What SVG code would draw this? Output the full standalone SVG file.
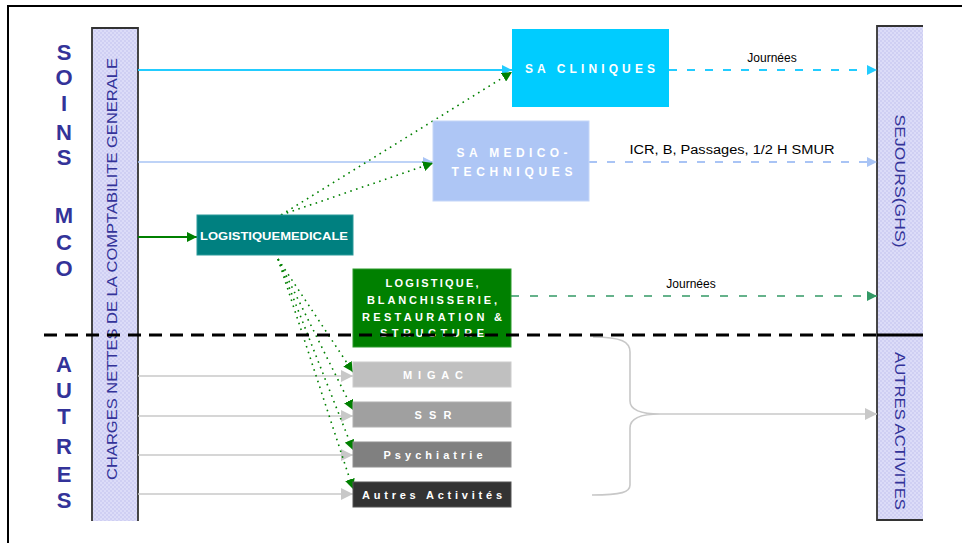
<svg xmlns="http://www.w3.org/2000/svg" width="962" height="543" viewBox="0 0 962 543">
<style>
.side{font-family:"Liberation Sans",Arial,sans-serif;font-weight:bold;font-size:22px;fill:#333399;text-anchor:middle}
.col{font-family:"Liberation Sans",Arial,sans-serif;font-size:14px;fill:#333399;text-anchor:middle;dominant-baseline:central}
.bt{font-family:"Liberation Sans",Arial,sans-serif;font-weight:bold;fill:#ffffff;text-anchor:middle}
.lbl{font-family:"Liberation Sans",Arial,sans-serif;font-size:12px;fill:#000000;text-anchor:middle}
.dot{fill:none;stroke:#008000;stroke-width:1.6;stroke-dasharray:1.6,4.5}
</style>
<defs>
<pattern id="hatch" width="4" height="4" patternUnits="userSpaceOnUse">
<rect width="4" height="4" fill="#dcdcf8"/>
<rect width="2" height="2" fill="#cfcff3"/>
<rect x="2" y="2" width="2" height="2" fill="#cfcff3"/>
</pattern>
<marker id="aCyan" markerUnits="userSpaceOnUse" markerWidth="10" markerHeight="10" refX="10" refY="5" orient="auto"><path d="M0,0 L10,5 L0,10 z" fill="#22ccff"/></marker>
<marker id="aBlue" markerUnits="userSpaceOnUse" markerWidth="10" markerHeight="10" refX="10" refY="5" orient="auto"><path d="M0,0 L10,5 L0,10 z" fill="#a9c4f5"/></marker>
<marker id="aGreen" markerUnits="userSpaceOnUse" markerWidth="10" markerHeight="10" refX="10" refY="5" orient="auto"><path d="M0,0 L10,5 L0,10 z" fill="#008000"/></marker>
<marker id="aDash" markerUnits="userSpaceOnUse" markerWidth="10" markerHeight="10" refX="10" refY="5" orient="auto"><path d="M0,0 L10,5 L0,10 z" fill="#339966"/></marker>
<marker id="aGray" markerUnits="userSpaceOnUse" markerWidth="12" markerHeight="12" refX="12" refY="6" orient="auto"><path d="M0,0 L12,6 L0,12 z" fill="#c8c8c8"/></marker>
</defs>
<rect width="962" height="543" fill="#ffffff"/>
<path d="M8,543 V6 H962" fill="none" stroke="#000" stroke-width="2"/>

<g id="label-soins-mco">
<text class="side" x="64" y="60">S</text>
<text class="side" x="64" y="85">O</text>
<text class="side" x="64" y="111">I</text>
<text class="side" x="64" y="140">N</text>
<text class="side" x="64" y="165">S</text>
<text class="side" x="64" y="223">M</text>
<text class="side" x="64" y="250">C</text>
<text class="side" x="64" y="276">O</text>
</g>
<g id="label-autres">
<text class="side" x="64" y="372">A</text>
<text class="side" x="64" y="398">U</text>
<text class="side" x="64" y="424">T</text>
<text class="side" x="64" y="454">R</text>
<text class="side" x="64" y="482">E</text>
<text class="side" x="64" y="508">S</text>
</g>

<g id="charges">
<rect x="92" y="28" width="46" height="493" fill="url(#hatch)"/>
<path d="M92,521 V28 H138 V521" fill="none" stroke="#333" stroke-width="1.8"/>
<text class="col" transform="translate(112,269) rotate(-90)" textLength="422" lengthAdjust="spacingAndGlyphs">CHARGES NETTES DE LA COMPTABILITE GENERALE</text>
</g>

<g id="sorties">
<rect x="877" y="26" width="46" height="494" fill="url(#hatch)"/>
<path d="M923,26 H877 V520 H923" fill="none" stroke="#333" stroke-width="1.8"/>
<text class="col" transform="translate(900,181) rotate(90)" textLength="133" lengthAdjust="spacingAndGlyphs">SEJOURS(GHS)</text>
<text class="col" transform="translate(900,431) rotate(90)" textLength="158" lengthAdjust="spacingAndGlyphs">AUTRES ACTIVITES</text>
</g>

<g id="connectors">
<line x1="138" y1="70" x2="512" y2="70" stroke="#22ccff" stroke-width="2" marker-end="url(#aCyan)"/>
<line x1="138" y1="162" x2="433" y2="162" stroke="#a9c4f5" stroke-width="1.6" marker-end="url(#aBlue)"/>
<line x1="138" y1="237" x2="197" y2="237" stroke="#008000" stroke-width="2" marker-end="url(#aGreen)"/>
<line x1="138" y1="376" x2="353" y2="376" stroke="#c8c8c8" stroke-width="1.6" marker-end="url(#aGray)"/>
<line x1="138" y1="416" x2="353" y2="416" stroke="#c8c8c8" stroke-width="1.6" marker-end="url(#aGray)"/>
<line x1="138" y1="455" x2="353" y2="455" stroke="#c8c8c8" stroke-width="1.6" marker-end="url(#aGray)"/>
<line x1="138" y1="494" x2="353" y2="494" stroke="#c8c8c8" stroke-width="1.6" marker-end="url(#aGray)"/>

<line class="dot" x1="281" y1="215" x2="512" y2="72" marker-end="url(#aGreen)"/>
<line class="dot" x1="281" y1="215" x2="433" y2="163" marker-end="url(#aGreen)"/>
<line class="dot" x1="278" y1="259" x2="353" y2="372" marker-end="url(#aGreen)"/>
<line class="dot" x1="278" y1="259" x2="353" y2="410" marker-end="url(#aGreen)"/>
<line class="dot" x1="278" y1="259" x2="353" y2="450" marker-end="url(#aGreen)"/>
<line class="dot" x1="278" y1="259" x2="353" y2="489" marker-end="url(#aGreen)"/>

<line x1="669" y1="70" x2="877" y2="70" stroke="#22ccff" stroke-width="2" stroke-dasharray="8,10" marker-end="url(#aCyan)"/>
<line x1="589" y1="162" x2="877" y2="162" stroke="#a9c4f5" stroke-width="1.8" stroke-dasharray="8,10" marker-end="url(#aBlue)"/>
<line x1="511" y1="296" x2="877" y2="296" stroke="#339966" stroke-width="1.5" stroke-dasharray="8,11" marker-end="url(#aDash)"/>
<text class="lbl" x="772" y="62">Journées</text>
<text class="lbl" x="732" y="154" textLength="205" lengthAdjust="spacingAndGlyphs">ICR, B, Passages, 1/2 H SMUR</text>
<text class="lbl" x="691" y="288">Journées</text>

<path d="M593,337 C622,337 630,342 630,352 L630,401 C630,410 640,414 660,414 C640,414 630,418 630,428 L630,485 C630,492 622,495 592,495" fill="none" stroke="#c8c8c8" stroke-width="1.6"/>
<line x1="660" y1="414" x2="877" y2="414" stroke="#c8c8c8" stroke-width="1.6" marker-end="url(#aGray)"/>
</g>

<g id="sa-cliniques">
<rect x="512" y="29" width="157" height="78" fill="#00ccff"/>
<text class="bt" x="590" y="73" font-size="12" textLength="130" lengthAdjust="spacing">SA CLINIQUES</text>
</g>
<g id="sa-medico">
<rect x="433" y="121" width="156" height="80" fill="#aec6f5" stroke="#c4d6f8" stroke-width="1"/>
<text class="bt" x="512" y="157" font-size="12" textLength="111" lengthAdjust="spacing">SA MEDICO-</text>
<text class="bt" x="512" y="176" font-size="12" textLength="121" lengthAdjust="spacing">TECHNIQUES</text>
</g>
<g id="logistique-medicale">
<rect x="197" y="215" width="156" height="40" fill="#008080" stroke="#2a9a9a" stroke-width="1"/>
<text class="bt" x="274" y="240" font-size="10" textLength="148" lengthAdjust="spacingAndGlyphs">LOGISTIQUEMEDICALE</text>
</g>
<g id="logistique">
<rect x="353" y="269" width="158" height="78" fill="#008000" stroke="#2a9a2a" stroke-width="1"/>
<text class="bt" x="432" y="287" font-size="11" textLength="93" lengthAdjust="spacing">LOGISTIQUE,</text>
<text class="bt" x="432" y="304" font-size="11" textLength="130" lengthAdjust="spacing">BLANCHISSERIE,</text>
<text class="bt" x="432" y="321" font-size="11" textLength="140" lengthAdjust="spacing">RESTAURATION &amp;</text>
<text class="bt" x="432" y="337" font-size="11" textLength="104" lengthAdjust="spacing">STRUCTURE</text>
</g>
<g id="migac">
<rect x="353" y="362" width="158" height="25" fill="#c0c0c0" stroke="#cccccc" stroke-width="1"/>
<text class="bt" x="433" y="379" font-size="11" textLength="60" lengthAdjust="spacing">MIGAC</text>
</g>
<g id="ssr">
<rect x="353" y="402" width="158" height="25" fill="#a0a0a0" stroke="#b0b0b0" stroke-width="1"/>
<text class="bt" x="433" y="419" font-size="11" textLength="37" lengthAdjust="spacing">SSR</text>
</g>
<g id="psychiatrie">
<rect x="353" y="442" width="158" height="25" fill="#808080" stroke="#909090" stroke-width="1"/>
<text class="bt" x="433" y="459" font-size="11" textLength="99" lengthAdjust="spacing">Psychiatrie</text>
</g>
<g id="autres-activites">
<rect x="353" y="482" width="158" height="25" fill="#333333" stroke="#555555" stroke-width="1"/>
<text class="bt" x="432" y="499" font-size="11" textLength="140" lengthAdjust="spacing">Autres Activités</text>
</g>

<line id="separator" x1="44" y1="335" x2="877" y2="335" stroke="#000" stroke-width="3" stroke-dasharray="13,8"/>
<line x1="877" y1="335" x2="923" y2="335" stroke="#000" stroke-width="3"/>
</svg>
